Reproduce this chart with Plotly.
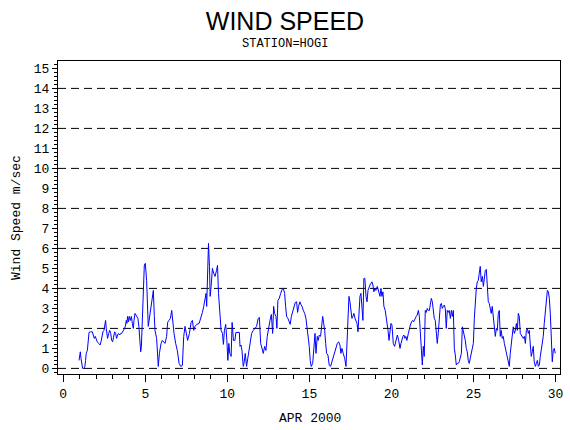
import plotly.graph_objects as go

# hourly-ish wind speed readings, station HOGI, April 2000
days = [
    0.96, 1.00, 1.04, 1.08, 1.14, 1.18, 1.26, 1.32, 1.36, 1.40,
    1.47, 1.53, 1.57, 1.67, 1.77, 1.83, 1.89, 1.95, 2.01, 2.07,
    2.16, 2.24, 2.30, 2.36, 2.42, 2.48, 2.54, 2.58, 2.62, 2.66,
    2.70, 2.77, 2.83, 2.89, 2.95, 3.01, 3.07, 3.13, 3.19, 3.25,
    3.31, 3.37, 3.44, 3.50, 3.56, 3.62, 3.68, 3.74, 3.80, 3.84,
    3.88, 3.92, 3.98, 4.02, 4.09, 4.15, 4.21, 4.27, 4.31, 4.37,
    4.43, 4.49, 4.55, 4.61, 4.67, 4.72, 4.76, 4.80, 4.84, 4.90,
    4.94, 5.00,
    5.08, 5.18, 5.29, 5.35, 5.43, 5.49, 5.55, 5.59, 5.69, 5.75,
    5.79, 5.86, 5.96, 6.04, 6.20, 6.30, 6.36, 6.44, 6.53, 6.61,
    6.67, 6.75, 6.85, 6.95, 7.06, 7.16, 7.26, 7.34, 7.42, 7.48,
    7.58, 7.69, 7.79, 7.87, 7.95, 8.03, 8.13, 8.28, 8.38, 8.48,
    8.56, 8.64, 8.70, 8.74, 8.81, 8.85, 8.91, 8.95, 9.01, 9.09,
    9.17, 9.25, 9.34, 9.40, 9.46, 9.54, 9.62, 9.70, 9.76, 9.82,
    9.90, 9.97, 10.03, 10.09, 10.15, 10.23, 10.29, 10.37,
    10.46, 10.52, 10.60, 10.73, 10.77, 10.83, 10.89, 10.97, 11.03, 11.09,
    11.17, 11.28, 11.34, 11.42, 11.48, 11.58, 11.68, 11.78, 11.88, 11.95,
    12.03, 12.11, 12.19, 12.27, 12.35, 12.43, 12.51, 12.60, 12.68, 12.76,
    12.82, 12.88, 12.96, 13.02, 13.08, 13.16, 13.25, 13.33, 13.41, 13.49,
    13.55, 13.61, 13.69, 13.77, 13.83, 13.90, 13.98, 14.06, 14.14, 14.22,
    14.28, 14.34, 14.42, 14.48, 14.55, 14.63, 14.71, 14.79, 14.87, 14.93,
    14.99, 15.05, 15.11, 15.20, 15.28, 15.34, 15.40, 15.48, 15.54, 15.60,
    15.68, 15.74, 15.81, 15.87, 15.93, 15.99, 16.05, 16.13, 16.21, 16.29,
    16.37, 16.45, 16.54, 16.62, 16.70, 16.78, 16.86, 16.92, 16.98, 17.06,
    17.15, 17.23, 17.29, 17.35, 17.41, 17.47, 17.53, 17.59, 17.65, 17.71,
    17.78, 17.84, 17.90, 17.96, 18.02, 18.08, 18.14, 18.20, 18.26, 18.32,
    18.38, 18.45, 18.51, 18.57, 18.63, 18.69, 18.75, 18.81, 18.87, 18.93,
    18.99, 19.05, 19.14, 19.22, 19.30, 19.36, 19.42, 19.48, 19.54, 19.62,
    19.70, 19.79, 19.85, 19.91, 19.97, 20.03, 20.11, 20.19, 20.27, 20.36,
    20.44, 20.52,
    20.58, 20.64, 20.70, 20.76, 20.82, 20.88, 20.94, 21.03, 21.09, 21.15,
    21.23, 21.29, 21.35, 21.43, 21.51, 21.57, 21.64, 21.70, 21.76, 21.82,
    21.88, 21.94, 22.00, 22.06, 22.12, 22.18, 22.24, 22.31, 22.37, 22.43,
    22.49, 22.55, 22.61, 22.67, 22.73, 22.79, 22.85, 22.92, 22.98, 23.04,
    23.10, 23.16, 23.22, 23.28, 23.34, 23.40, 23.46, 23.52, 23.59, 23.65,
    23.71, 23.77, 23.83, 23.89, 23.95, 24.01, 24.07, 24.13, 24.19, 24.26,
    24.32, 24.38, 24.44, 24.50, 24.56, 24.62, 24.68, 24.74, 24.80, 24.86,
    24.93, 24.99, 25.05, 25.11, 25.17, 25.23, 25.29, 25.35, 25.41, 25.47,
    25.54, 25.60, 25.66, 25.72, 25.78, 25.84, 25.90, 25.96, 26.02, 26.08,
    26.14, 26.21, 26.27, 26.33, 26.39, 26.45, 26.51, 26.57, 26.63, 26.69,
    26.75, 26.81, 26.88, 26.94, 27.00, 27.06, 27.12, 27.18, 27.24, 27.30,
    27.36, 27.42, 27.49, 27.55, 27.61, 27.67, 27.73, 27.79, 27.85, 27.91,
    27.97, 28.03, 28.10, 28.16, 28.22, 28.28, 28.34, 28.40, 28.46, 28.52,
    28.58, 28.64, 28.70, 28.77, 28.83, 28.89, 28.95, 29.01, 29.07, 29.13,
    29.19, 29.25, 29.31, 29.37, 29.44, 29.50, 29.56, 29.62, 29.68, 29.74,
    29.80, 29.86, 29.92, 29.98,
]

speed = [
    0.4, 0.75, 0.83, 0.5, 0.17, 0.0, 0.0, 0.1, 0.4, 0.75,
    0.9, 1.33, 1.8, 1.83, 1.83, 1.67, 1.5, 1.6, 1.4, 1.33,
    1.25, 1.17, 1.33, 1.6, 1.83, 1.9, 2.25, 2.4, 2.0, 1.6,
    1.5, 1.75, 1.9, 1.75, 1.4, 1.33, 1.67, 1.83, 1.75, 1.5,
    1.67, 1.75, 1.67, 1.75, 1.75, 1.83, 1.9, 2.0, 2.17, 2.4,
    2.25, 2.6, 2.33, 2.6, 2.4, 2.6, 2.25, 2.0, 2.4, 2.75,
    2.67, 2.6, 2.5, 2.08, 1.0, 0.83, 1.08, 2.0, 3.25, 4.67,
    5.17, 5.25,
    4.4, 2.1, 2.75, 3.0, 3.5, 3.9, 2.6, 1.9, 1.5, 0.25,
    0.1, 0.75, 1.25, 1.4, 1.25, 1.6, 2.3, 2.4, 2.5, 2.9,
    2.3, 1.75, 1.25, 0.9, 0.25, 0.1, 0.15, 1.6, 2.1, 1.75,
    1.4, 1.75, 2.3, 2.4, 1.9, 2.1, 2.2, 2.25, 2.5, 2.8,
    3.1, 3.4, 3.75, 3.1, 5.25, 6.25, 5.1, 3.6, 4.1, 5.0,
    4.75, 4.6, 4.9, 5.15, 3.75, 2.75, 1.9, 1.75, 1.2, 1.9,
    2.2, 1.4, 0.4, 1.25, 0.75, 0.6, 2.3, 1.4,
    1.4, 1.8, 1.8, 1.8, 1.1, 1.17, 0.9, 0.1, 0.33, 0.75,
    0.1, 0.75, 1.17, 1.6, 1.75, 1.9, 2.0, 2.1, 2.5, 2.55,
    1.25, 0.9, 0.75, 1.1, 0.9, 1.6, 2.1, 2.4, 2.7, 1.75,
    3.1, 2.75, 2.6, 2.0, 3.4, 3.5, 3.75, 3.95, 4.0, 3.75,
    3.1, 2.6, 2.5, 2.33, 2.2, 2.6, 2.8, 3.1, 3.3, 3.33,
    2.8, 3.1, 3.33, 3.2, 3.1, 2.9, 2.75, 2.5, 2.0, 1.6,
    1.1, 0.4, 0.1, 0.25, 1.4, 1.75, 0.75, 1.6, 1.4, 1.67,
    1.6, 2.25, 2.6, 2.25, 1.9, 1.25, 0.75, 0.67, 0.15, 0.1,
    0.33, 0.6, 0.75, 1.0, 1.25, 1.33, 1.17, 0.75, 1.0, 0.75,
    0.5, 0.1, 1.4, 2.8, 3.6, 3.33, 2.67, 2.5, 2.6, 2.75,
    2.5, 2.4, 2.25, 1.83, 3.0, 3.6, 3.75, 2.75, 2.4, 4.5,
    4.5, 3.6, 3.33, 3.9, 4.1, 4.17, 4.25, 4.33, 4.17, 3.83,
    4.0, 3.9, 4.1, 3.83, 3.6, 4.0, 3.6, 3.83, 3.1, 2.9,
    2.5, 1.9, 1.4, 1.9, 2.25, 2.17, 1.25, 1.1, 1.4, 1.67,
    1.4, 1.0,
    1.25, 1.5, 1.6, 1.67, 1.5, 1.6, 1.4, 1.75, 2.0, 2.17,
    2.33, 2.4, 2.33, 2.5, 2.6, 2.67, 2.9, 2.6, 1.6, 1.25,
    0.17, 1.1, 0.6, 2.9, 2.8, 3.0, 2.9, 2.9, 3.33, 3.5,
    3.33, 2.75, 2.5, 2.4, 1.9, 1.25, 1.75, 2.75, 3.17, 3.25,
    3.0, 3.1, 3.17, 3.0, 2.0, 2.9, 2.8, 2.9, 2.5, 2.9,
    2.6, 2.9, 1.0, 0.67, 0.17, 0.25, 0.25, 0.33, 0.5, 0.75,
    2.08, 1.9, 1.6, 1.4, 1.0, 0.83, 0.4, 0.25, 0.5, 0.75,
    0.9, 1.25, 2.5, 3.4, 4.0, 4.33, 4.4, 4.75, 5.1, 4.33,
    4.6, 4.1, 4.4, 4.9, 4.95, 4.0, 3.33, 3.25, 3.0, 2.75,
    3.1, 2.4, 2.08, 1.6, 2.0, 1.9, 2.75, 2.9, 1.6, 1.9,
    1.5, 1.6, 1.25, 1.0, 0.83, 0.6, 0.33, 0.1, 0.75, 1.25,
    1.6, 2.08, 1.75, 1.9, 2.25, 1.9, 2.75, 2.6, 1.75, 1.67,
    1.6, 1.5, 1.6, 1.25, 1.9, 2.0, 1.75, 1.9, 1.17, 0.6,
    0.83, 1.1, 0.33, 0.1, 0.25, 0.4, 0.1, 0.17, 0.6, 1.0,
    1.1, 1.6, 2.25, 2.8, 3.33, 3.9, 3.83, 3.5, 2.75, 1.4,
    0.33, 0.9, 1.0, 0.75,
]

# dashed reference levels
ref_levels = [0, 2, 4, 6, 8, 10, 12, 14]

y_range = [-0.28, 15.37]
x_range = [-0.32, 30.27]

fig = go.Figure()
fig.add_trace(go.Scatter(x=days, y=speed, mode="lines",
                         line=dict(color="#0000ff", width=1),
                         showlegend=False))

for lvl in ref_levels:
    fig.add_shape(type="line", xref="paper", x0=0, x1=1, yref="y",
                  y0=lvl, y1=lvl, layer="below",
                  line=dict(color="black", width=1, dash="8px,5px"))

tickfont = dict(family="Liberation Mono", size=13, color="black")

fig.update_layout(
    width=570, height=430,
    margin=dict(l=58, r=10, t=61, b=56, autoexpand=False),
    paper_bgcolor="white", plot_bgcolor="white",
    title=dict(text="WIND SPEED", x=0.5, xref="container",
               y=0.951, yanchor="middle",
               font=dict(family="Liberation Sans", size=25, color="black")),
    xaxis=dict(range=x_range, tickmode="linear", tick0=0, dtick=5,
               ticks="outside", ticklen=7, tickcolor="black",
               showline=True, linecolor="black", linewidth=1, mirror=True,
               showgrid=False, zeroline=False, tickfont=tickfont,
               automargin=False,
               minor=dict(dtick=1, ticks="outside", ticklen=4,
                          tickcolor="black")),
    yaxis=dict(range=y_range, tickmode="linear", tick0=0, dtick=1,
               ticks="outside", ticklen=5, tickcolor="black",
               showline=True, linecolor="black", linewidth=1, mirror=True,
               showgrid=False, zeroline=False, tickfont=tickfont,
               automargin=False,
               minor=dict(dtick=0.2, ticks="outside", ticklen=3,
                          tickcolor="black")),
    annotations=[
        dict(text="STATION=HOGI", xref="paper", yref="paper",
             x=0.452, y=1.054, xanchor="center", yanchor="middle",
             showarrow=False,
             font=dict(family="Liberation Mono", size=12, color="black")),
        dict(text="Wind Speed m/sec", xref="paper", yref="paper",
             x=-0.0817, y=0.5016, xanchor="center", yanchor="middle",
             textangle=-90, showarrow=False,
             font=dict(family="Liberation Mono", size=13, color="black")),
        dict(text="APR 2000", xref="paper", yref="paper",
             x=0.502, y=-0.1406, xanchor="center", yanchor="middle",
             showarrow=False,
             font=dict(family="Liberation Mono", size=13, color="black")),
    ],
)

# the page body has a default 8px margin; drop it so the figure fills the window
fig.write_html("out.html", config={"displayModeBar": False},
               post_script="document.body.style.margin='0';")
